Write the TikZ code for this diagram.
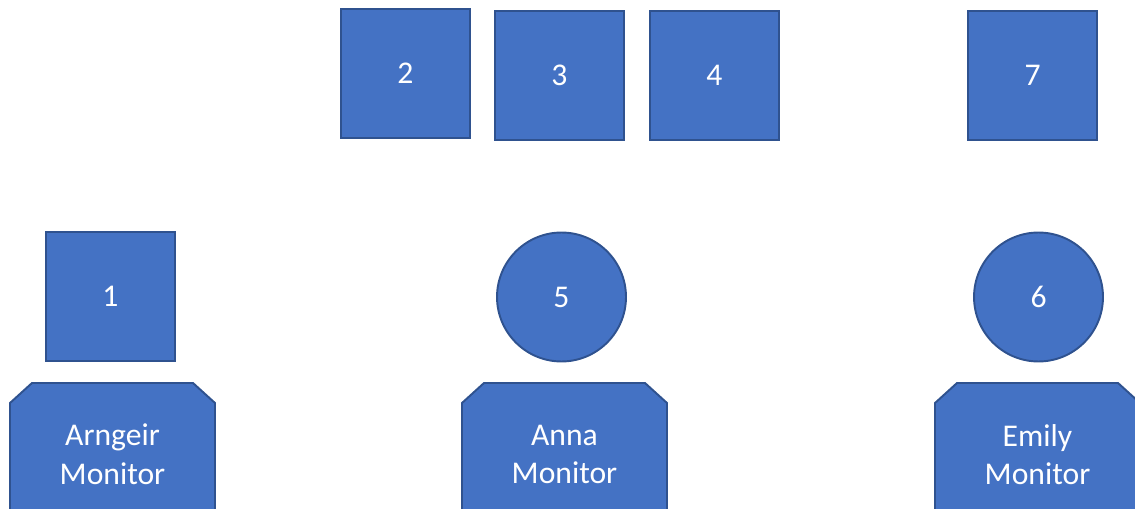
\documentclass[tikz,border=0pt]{standalone}
\usepackage{fontspec}
\setmainfont{Carlito}
\definecolor{boxfill}{HTML}{4472C4}
\definecolor{boxline}{HTML}{2F528F}

\begin{document}
\begin{tikzpicture}[x=0.02cm, y=-0.02cm,
    seat/.style={draw=boxline, fill=boxfill, line width=1.1pt, text=white,
        font=\fontsize{18}{22}\selectfont, minimum size=2.58cm, inner sep=0pt},
    person/.style={seat, circle},
    monitor/.style={draw=boxline, fill=boxfill, line width=1.1pt},
    monitor text/.style={text=white, align=center, inner sep=0pt,
        font=\fontsize{18}{22}\selectfont}]
    \useasboundingbox (0,0) rectangle (1135,509);
    \clip (0,0) rectangle (1135,509);

    % seats along the top row
    \node[seat] (s2) at (405.5,73.5) {2};
    \node[seat] (s3) at (559.5,75.5) {3};
    \node[seat] (s4) at (714.5,75.5) {4};
    \node[seat] (s7) at (1032.5,75.5) {7};

    % middle row
    \node[seat] (s1) at (110.5,296.5) {1};
    \node[person] (s5) at (561.5,297) {5};
    \node[person] (s6) at (1038.5,297) {6};

    % monitors, cut off at the bottom
    \foreach \name/\x/\who in {arngeir/10/Arngeir, anna/462/Anna, emily/935/Emily}
    {
        \filldraw[monitor] (\x,540) -- (\x,403) -- ++(22,-20) -- ++(161,0)
            -- ++(22,20) -- (\x+205,540) -- cycle;
        \node[monitor text] (\name) at (\x+102.5,454.5) {\who\\Monitor};
    }
\end{tikzpicture}
\end{document}
